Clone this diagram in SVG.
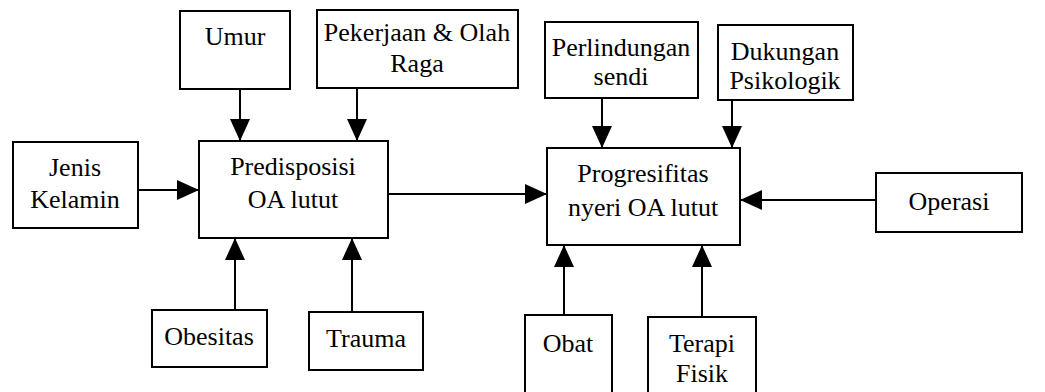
<svg xmlns="http://www.w3.org/2000/svg" width="1045" height="392" viewBox="0 0 1045 392">
<style>
rect{fill:#fff;stroke:#000;stroke-width:2}
text{font-family:"Liberation Serif","Times New Roman",serif;font-size:26px;fill:#000;text-anchor:middle}
.c line{stroke:#000;stroke-width:2;marker-end:url(#ah)}
</style>
<defs>
<marker id="ah" markerUnits="userSpaceOnUse" markerWidth="22" markerHeight="22" viewBox="0 0 22 22" refX="22" refY="11" orient="auto">
<path d="M0,1 L22,11 L0,21 z" fill="#000"/>
</marker>
</defs>
<rect width="1045" height="392" style="stroke:none"/>
<g id="umur"><rect x="180" y="11" width="110" height="78"/><text x="235" y="45">Umur</text></g>
<g id="pekerjaan"><rect x="317" y="10" width="201" height="78"/><text x="417" y="41">Pekerjaan &amp; Olah</text><text x="417" y="72">Raga</text></g>
<g id="perlindungan"><rect x="545" y="22" width="153" height="76"/><text x="621" y="56">Perlindungan</text><text x="621" y="85">sendi</text></g>
<g id="dukungan"><rect x="718" y="25" width="135" height="75"/><text x="785" y="60">Dukungan</text><text x="785" y="89">Psikologik</text></g>
<g id="jenis"><rect x="13" y="142" width="125" height="86"/><text x="75" y="176">Jenis</text><text x="75" y="208">Kelamin</text></g>
<g id="predisposisi"><rect x="199" y="141" width="189" height="97"/><text x="293" y="175">Predisposisi</text><text x="293" y="208">OA lutut</text></g>
<g id="progresifitas"><rect x="547" y="148" width="193" height="97"/><text x="643" y="182">Progresifitas</text><text x="643" y="216">nyeri OA lutut</text></g>
<g id="operasi"><rect x="876" y="173" width="146" height="59"/><text x="949" y="210">Operasi</text></g>
<g id="obesitas"><rect x="152" y="310" width="115" height="57"/><text x="209" y="345">Obesitas</text></g>
<g id="trauma"><rect x="309" y="312" width="114" height="58"/><text x="366" y="347">Trauma</text></g>
<g id="obat"><rect x="525" y="315" width="87" height="90"/><text x="568" y="352">Obat</text></g>
<g id="terapi"><rect x="648" y="317" width="108" height="90"/><text x="702" y="352">Terapi</text><text x="702" y="382">Fisik</text></g>
<g class="c" id="connectors">
<line x1="240" y1="89" x2="240" y2="141"/>
<line x1="357" y1="88" x2="357" y2="141"/>
<line x1="138" y1="190" x2="199" y2="190"/>
<line x1="235" y1="310" x2="235" y2="238"/>
<line x1="352" y1="312" x2="352" y2="238"/>
<line x1="388" y1="194" x2="547" y2="194"/>
<line x1="602" y1="98" x2="602" y2="148"/>
<line x1="732" y1="100" x2="732" y2="148"/>
<line x1="876" y1="200" x2="740" y2="200"/>
<line x1="564" y1="315" x2="564" y2="245"/>
<line x1="702" y1="317" x2="702" y2="245"/>
</g>
</svg>
